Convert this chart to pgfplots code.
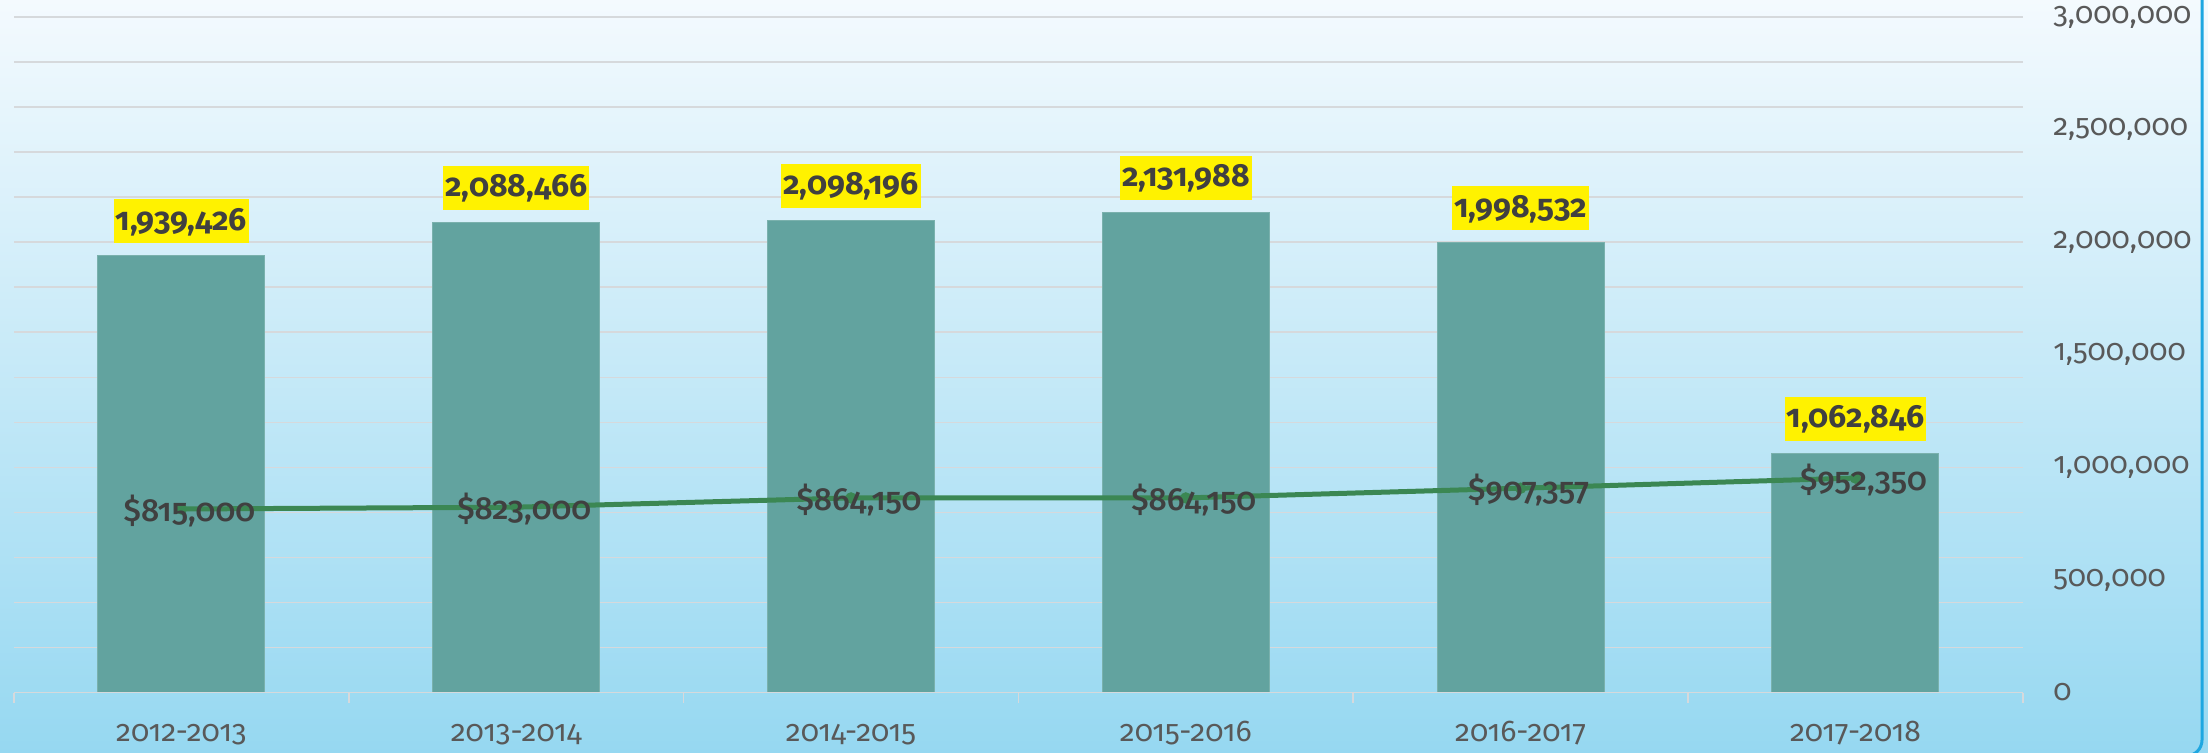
\documentclass[border=0pt]{standalone}
\usepackage{fontspec}
\setmainfont{Fira Sans}[Numbers=OldStyle]
\newfontfamily\medfont{Fira Sans Medium}[Numbers=OldStyle]
\usepackage{pgfplots}
\pgfplotsset{compat=1.18}
\usepackage{pgfplotstable}
\definecolor{barcol}{HTML}{62A39F}
\definecolor{linecol}{HTML}{3B8753}
\definecolor{txt}{HTML}{404040}
\definecolor{lbl}{HTML}{595959}
\definecolor{gridc}{HTML}{D6D9DC}
\definecolor{bgtop}{HTML}{F4FAFE}
\definecolor{bgbot}{HTML}{96D8F1}
\definecolor{bordercol}{HTML}{1EA7E1}

\pgfplotstableread{
x students label
0 1939426 1,939,426
1 2088466 2,088,466
2 2098196 2,098,196
3 2131988 2,131,988
4 1998532 1,998,532
5 1062846 1,062,846
}\bardata
\pgfplotstableread{
x cost label
0 815000 815,000
1 823000 823,000
2 864150 864,150
3 864150 864,150
4 907357 907,357
5 952350 952,350
}\linedata

\begin{document}
\begin{tikzpicture}
\useasboundingbox (0,0) rectangle (1104pt,376pt);
\shade[top color=bgtop, bottom color=bgbot] (0,0) rectangle (1104pt,376pt);
\begin{axis}[
  at={(7pt,29.75pt)}, anchor=south west,
  scale only axis, width=1004.5pt, height=337.75pt,
  xmin=-0.5, xmax=5.5, ymin=0, ymax=3000000,
  axis line style={draw=none},
  xtick={0,1,2,3,4,5},
  xticklabels={2012-2013,2013-2014,2014-2015,2015-2016,2016-2017,2017-2018},
  major tick length=0pt, minor tick length=0pt,
  ytick={0,500000,1000000,1500000,2000000,2500000,3000000},
  minor ytick={0,200000,400000,600000,800000,1000000,1200000,1400000,1600000,1800000,2000000,2200000,2400000,2600000,2800000,3000000},
  yminorgrids, minor grid style={gridc, line width=0.75pt},
  yticklabel pos=right,
  scaled y ticks=false,
  yticklabel style={anchor=west, inner sep=0pt, xshift=15pt, font=\fontsize{15}{17}\selectfont, text=lbl},
  xticklabel style={anchor=base, inner sep=0pt, yshift=-24.5pt, font=\fontsize{15}{17}\selectfont, text=lbl},
  /pgf/number format/.cd, fixed, precision=0, 1000 sep={,}, assume math mode=true, /pgfplots/.cd,
  clip=false,
]
\addplot[ybar, bar width=83.5pt, fill=barcol, draw=barcol!85!white, line width=0.5pt,
  point meta=explicit symbolic, nodes near coords,
  every node near coord/.append style={fill=yellow, text=txt, font=\fontsize{16}{19}\selectfont\bfseries,
    inner xsep=1pt, inner ysep=3pt, text height=12.5pt, text depth=3.5pt, anchor=south, yshift=6pt}]
  table[x=x, y=students, meta=label] {\bardata};
\draw[gridc, line width=0.75pt] (axis cs:-0.5,0) -- (axis cs:5.5,0);
\pgfplotsinvokeforeach{-0.5,0.5,1.5,2.5,3.5,4.5,5.5}{
  \draw[gridc, line width=0.75pt] (axis cs:#1,0) -- ([yshift=-5pt]axis cs:#1,0);
}
\addplot[linecol, line width=2.5pt, mark=*, mark size=2.6pt, mark options={fill=linecol, draw=linecol, line width=0.5pt},
  point meta=explicit symbolic, nodes near coords={\$\pgfplotspointmeta},
  every node near coord/.append style={anchor=center, text=txt, font=\fontsize{16}{19}\medfont, xshift=4pt, yshift=-1pt}]
  table[x=x, y=cost, meta=label] {\linedata};
\end{axis}
\draw[bordercol, line width=1.5pt, rounded corners=8pt] (1101pt,380pt) -- (1101pt,-2pt) -- (1060pt,-2pt);
\end{tikzpicture}
\end{document}
